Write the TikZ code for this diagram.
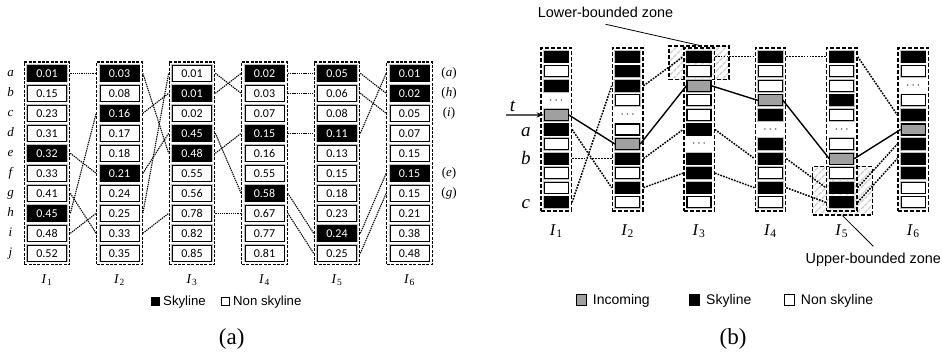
\documentclass[tikz,border=0pt]{standalone}
\usepackage{fontspec}
\setmainfont{Liberation Serif}
\setsansfont{Liberation Sans}
\newfontfamily\numfont{Carlito}
\usetikzlibrary{fit,patterns.meta,arrows.meta}
\definecolor{incoming}{RGB}{160,160,160}
\newcommand\fsz[1]{\fontsize{#1}{#1}\selectfont}
\newcommand\Isub[1]{\textit{I}\kern0.3pt\textsubscript{#1}}
\newcommand\txtd{$\cdots$}
\begin{document}
\begin{tikzpicture}[x=1pt,y=-1pt,
  acell/.style={minimum width=39pt,minimum height=16pt,inner sep=0pt,line width=0.9pt,font=\numfont\fsz{12},preaction={draw=gray!50,line width=2.2pt}},
  acellk/.style={acell,fill=black,draw=black,text=white},
  acellw/.style={acell,fill=white,draw=black},
  abox/.style={draw=black,dash pattern=on 3pt off 1.4pt,line width=1.2pt,inner sep=2.8pt},
  conn/.style={line width=1.1pt,dash pattern=on 1.3pt off 0.9pt},
  rowlab/.style={font=\fsz{13}\itshape,anchor=base,inner sep=0pt},
  acollab/.style={font=\fsz{13.5},anchor=base,inner sep=0pt},
  legtxtA/.style={font=\sffamily\fsz{13.2},anchor=base west,inner sep=0pt},
  legtxtB/.style={font=\sffamily\fsz{14},anchor=base west,inner sep=0pt},
  legsq/.style={draw=black,line width=0.9pt,minimum size=#1,inner sep=0pt},
  caption/.style={font=\fsz{23},inner sep=0pt},
  bcell/.style={minimum width=24pt,minimum height=11pt,inner sep=0pt,line width=1.2pt,font=\fsz{13}},
  bcellk/.style={bcell,fill=black,draw=black,preaction={draw=gray!50,line width=2.4pt}},
  bcellw/.style={bcell,fill=white,draw=black,preaction={draw=gray!50,line width=2.4pt}},
  bcellg/.style={bcell,fill=incoming,draw=black,preaction={draw=gray!50,line width=2.4pt}},
  bcelld/.style={bcell},
  bbox/.style={draw=black,dash pattern=on 4pt off 2pt,line width=1.4pt,inner sep=2.6pt},
  zone/.style={draw=black,dash pattern=on 4pt off 2pt,line width=1.3pt,inner sep=0pt,pattern={Lines[angle=45,distance=5pt,line width=1.4pt]},pattern color=gray!35},
  solidconn/.style={line width=1.4pt},
  bconn/.style={line width=1.5pt,dash pattern=on 1.7pt off 1.2pt},
  blab/.style={font=\fsz{19}\itshape,anchor=base,inner sep=0pt},
  bcollab/.style={font=\fsz{16.5},anchor=base,inner sep=0pt},
  zonelab/.style={font=\sffamily\fsz{14.4},anchor=base,inner xsep=0pt,inner ysep=6.6pt},
]
\useasboundingbox (0,0) rectangle (942,356);

% ---------------- part (a) ----------------
\foreach \ci/\xx/\lst in {
 1/47/{0.01/k,0.15/w,0.23/w,0.31/w,0.32/k,0.33/w,0.41/w,0.45/k,0.48/w,0.52/w},
 2/119.5/{0.03/k,0.08/w,0.16/k,0.17/w,0.18/w,0.21/k,0.24/w,0.25/w,0.33/w,0.35/w},
 3/192/{0.01/w,0.01/k,0.02/w,0.45/k,0.48/k,0.55/w,0.56/w,0.78/w,0.82/w,0.85/w},
 4/264.5/{0.02/k,0.03/w,0.07/w,0.15/k,0.16/w,0.55/w,0.58/k,0.67/w,0.77/w,0.81/w},
 5/337/{0.05/k,0.06/w,0.08/w,0.11/k,0.13/w,0.15/w,0.18/w,0.23/w,0.24/k,0.25/w},
 6/409.5/{0.01/k,0.02/k,0.05/w,0.07/w,0.15/w,0.15/k,0.15/w,0.21/w,0.38/w,0.48/w}}
{
 \foreach \val/\typ [count=\ri from 0] in \lst
   \node[acell\typ] (a\ci-\ri) at (\xx,73.3+20*\ri) {\val};
 \node[abox,fit=(a\ci-0)(a\ci-9)] (A\ci) {};
 \node[acollab] (LA\ci) at (\xx,283.3) {\Isub{\ci}};
}
\foreach \lab [count=\ri from 0] in {a,b,c,d,e,f,g,h,i,j}
  \node[rowlab] (ra\ri) at (10.5,76.3+20*\ri) {\lab};
\foreach \lab/\ri in {a/0,h/1,i/2,e/5,g/6}
  \node[rowlab,font=\fsz{13}] (rl\lab) at (449,76.3+20*\ri) {(\textit{\lab})};
\foreach \ci/\cj/\lst in {1/2/{0/0,4/5,7/2,6/8,8/7}, 2/3/{0/4,2/1,5/3,7/0,8/7},
   3/4/{0/1,1/0,3/6,4/3,7/7}, 4/5/{0/0,1/1,3/3,6/8,7/9}, 5/6/{0/1,1/2,3/0,8/5,9/6}}
{
 \foreach \ri/\rj in \lst
   \draw[conn] (a\ci-\ri.east -| A\ci.east) -- (a\cj-\rj.west -| A\cj.west);
}
\node[legsq=8pt,fill=black] (lgAk) at (155.5,301) {};
\node[legtxtA] (lgAkt) at (163,305.3) {Skyline};
\node[legsq=8pt,fill=white] (lgAw) at (225.3,301) {};
\node[legtxtA] (lgAwt) at (233,305.3) {Non skyline};
\node[caption] (capA) at (231.7,339) {(a)};

% ---------------- part (b) ----------------
\node[zone,minimum width=60pt,minimum height=33.3pt] (ZL) at (699,62.65) {};
\node[zone,minimum width=59.6pt,minimum height=48.3pt] (ZU) at (842.5,190.85) {};
\foreach \ci/\xx/\lst in {
 1/556.2/{k,w,k,d,g,k,w,k,w,w,k},
 2/627.6/{k,k,k,w,d,w,g,k,w,k,w},
 3/699/{k,w,g,w,w,k,d,k,k,k,w},
 4/770.4/{k,w,w,g,k,d,k,k,w,k,w},
 5/841.8/{k,w,w,k,w,d,w,g,w,k,k},
 6/913.2/{k,w,d,w,k,g,k,k,k,w,w}}
{
 \foreach \typ [count=\ri from 0] in \lst
   \node[bcell\typ] (b\ci-\ri) at (\xx,56.7+14.56*\ri) {\csname txt\typ\endcsname};
 \node[bbox,fit=(b\ci-0)(b\ci-10)] (B\ci) {};
 \node[bcollab] (LB\ci) at (\xx,235) {\Isub{\ci}};
}
\foreach \ci/\cj/\lst in {1/2/{5/9,7/7,10/2}, 2/3/{2/0,7/5,9/8}, 3/4/{0/0,5/7,8/9},
   4/5/{0/0,7/9,9/10}, 5/6/{0/4,9/6,10/7}}
{
 \foreach \ri/\rj in \lst
   \draw[bconn] (b\ci-\ri.east -| B\ci.east) -- (b\cj-\rj.west -| B\cj.west);
}
\foreach \ci/\ri/\cj/\rj in {1/4/2/6, 2/6/3/2, 3/2/4/3, 4/3/5/7, 5/7/6/5}
  \draw[solidconn] (b\ci-\ri.east) -- (b\cj-\rj.west);

\coordinate (tstart) at (506,115);
\draw[line width=1.2pt,-{Stealth[length=7pt,width=5pt]}] (tstart) -- (b1-4.west);
\node[blab] (tlab) at (512.5,111.7) {t};
\node[blab] (alab) at (525.8,136.7) {a};
\node[blab] (blab) at (525.8,164) {b};
\node[blab] (clab) at (525.8,208.3) {c};

\node[zonelab] (LZlab) at (605.5,17.3) {Lower-bounded zone};
\node[zonelab] (UZlab) at (873.3,263.5) {Upper-bounded zone};
\draw[line width=0.8pt] (LZlab.south) -- (ZL.north);
\draw[line width=0.8pt] (ZU.south) -- (UZlab.north);

\node[legsq=10.5pt,fill=incoming] (lgBg) at (581.3,300) {};
\node[legtxtB] (lgBgt) at (592.7,304.5) {Incoming};
\node[legsq=10.5pt,fill=black] (lgBk) at (694.5,300) {};
\node[legtxtB] (lgBkt) at (706,304.5) {Skyline};
\node[legsq=10.5pt,fill=white] (lgBw) at (789.5,300) {};
\node[legtxtB] (lgBwt) at (800.7,304.5) {Non skyline};
\node[caption] (capB) at (733,339) {(b)};
\end{tikzpicture}
\end{document}
